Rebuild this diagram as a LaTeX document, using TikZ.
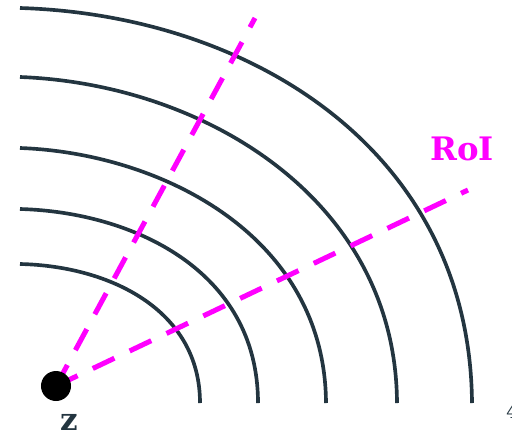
\documentclass[tikz,border=0pt]{standalone}
\usepackage{fontspec}
\newfontfamily\labelfont{DejaVu Serif}
\definecolor{slate}{HTML}{233540}
\definecolor{roimag}{HTML}{FF00FF}
\begin{document}
\begin{tikzpicture}[x=0.025cm,y=-0.025cm,
level/.style={draw=slate,line width=2.6pt},
roiline/.style={draw=roimag,line width=3.6pt,dash pattern=on 17pt off 12pt}]

\useasboundingbox (0,0) rectangle (512,435);

% level curves
\draw[level] (20,8) .. controls (250,15) and (470,150) .. (472,403);
\draw[level] (20,77) .. controls (205,84) and (396,200) .. (397,403);
\draw[level] (20,148) .. controls (160,153) and (325,235) .. (326,403);
\draw[level] (20,209) .. controls (132,212) and (258,270) .. (258,403);
\draw[level] (20,264) .. controls (110,266) and (200,310) .. (200,403);

\coordinate (upper) at (255,18);
\coordinate (lower) at (468,190);
\coordinate (center) at (56,386);

\draw[roiline] (center) -- (upper);
\draw[roiline] (center) -- (lower);

\node[circle,fill=black,minimum size=0.75cm,inner sep=0pt] (z) at (center)
{};

\node[anchor=base,inner sep=0pt,text=slate,font=\labelfont\bfseries\fontsize{22}{26}\selectfont] (zlabel) at (69,430)
{z};

\node[anchor=base,inner sep=0pt,text=roimag,font=\labelfont\bfseries\fontsize{23}{26}\selectfont] (roi) at (462,160)
{RoI};

\node[anchor=base west,inner sep=0pt,text=slate,font=\labelfont\fontsize{13}{15}\selectfont] (cut) at (506,418)
{4};

\end{tikzpicture}
\end{document}
